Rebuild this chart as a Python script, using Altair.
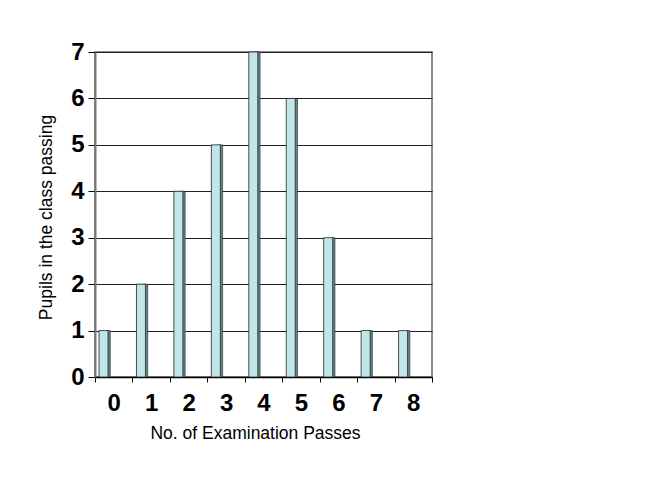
import altair as alt
import pandas as pd

passes = ["0", "1", "2", "3", "4", "5", "6", "7", "8"]
pupils = [1, 2, 4, 5, 7, 6, 3, 1, 1]

df = pd.DataFrame({"passes": passes, "pupils": pupils})

FONT = "Liberation Sans"

x_enc = alt.X(
    "passes:N",
    sort=passes,
    scale=alt.Scale(paddingInner=0, paddingOuter=0),
    axis=alt.Axis(
        title="No. of Examination Passes",
        titleFont=FONT,
        titleFontSize=17.5,
        titleFontWeight="normal",
        titleColor="black",
        titleX=160,
        titleY=56,
        titleAlign="center",
        titleBaseline="middle",
        labelAngle=0,
        labelFont=FONT,
        labelFontSize=24,
        labelFontWeight="bold",
        labelColor="black",
        labelPadding=9,
        tickSize=5,
        tickColor="black",
        tickBand="extent",
        domainColor="black",
        domainWidth=1.5,
        grid=False,
    ),
)

y_enc = alt.Y(
    "pupils:Q",
    scale=alt.Scale(domain=[0, 7], nice=False),
    axis=alt.Axis(
        title="Pupils in the class passing",
        titleFont=FONT,
        titleFontSize=17.5,
        titleFontWeight="normal",
        titleColor="black",
        titleAngle=270,
        titleX=-49,
        titleY=165,
        titleAlign="center",
        titleBaseline="middle",
        values=[0, 1, 2, 3, 4, 5, 6, 7],
        labelFont=FONT,
        labelFontSize=24,
        labelFontWeight="bold",
        labelColor="black",
        labelPadding=4,
        tickSize=7,
        tickColor="black",
        domainColor="#777777",
        domainWidth=2,
        grid=True,
        gridColor="#222222",
        gridWidth=1,
    ),
)

base = alt.Chart(df)

side = base.mark_bar(
    width=3.5, xOffset=-5.2, fill="#5A8A8F", stroke="#222222", strokeWidth=0.6
).encode(x=x_enc, y=y_enc)

face = base.mark_bar(
    width=9, xOffset=-10.2, fill="#C2E5EA", stroke="#222222", strokeWidth=0.8
).encode(x=x_enc, y=y_enc)

chart = (
    alt.layer(side, face)
    .properties(
        width=337,
        height=325,
        autosize=alt.AutoSizeParams(type="none"),
        padding={"left": 87, "top": 44, "right": 20, "bottom": 100},
        background="white",
    )
    .configure_view(stroke="#666666", strokeWidth=1.5)
)

chart.save("out.html", embed_options={"renderer": "svg", "actions": False})
